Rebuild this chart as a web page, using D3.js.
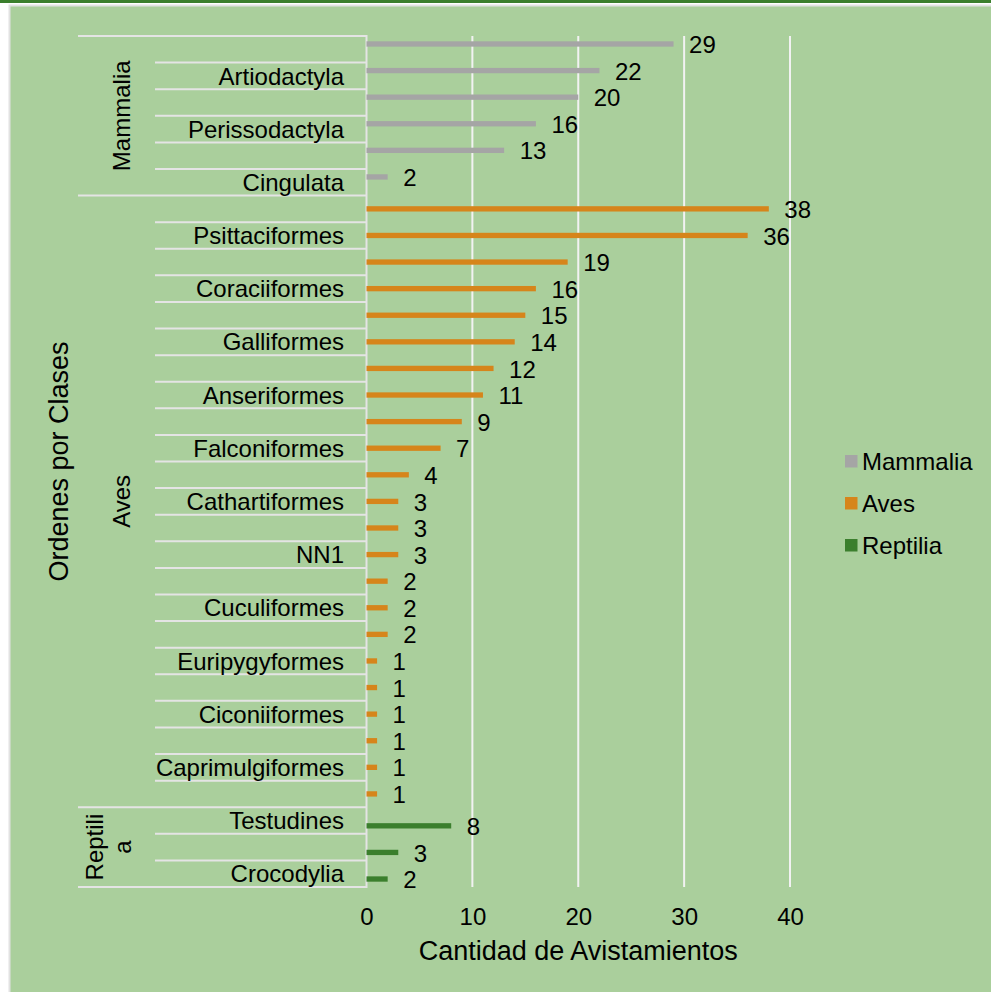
<!DOCTYPE html>
<html><head><meta charset="utf-8">
<script src="https://cdn.jsdelivr.net/npm/d3@7"></script>
<style>
html,body{margin:0;padding:0;background:#ffffff;}
text{font-family:"Liberation Sans",Arial,sans-serif;fill:#000;}
</style></head>
<body>
<svg id="chart" width="991" height="992"></svg>
<script>
// ---- data ----
const classes = ["Mammalia", "Aves", "Reptilia"];
const mammaliaOrders = ["Carnivora", "Artiodactyla", "Primates", "Perissodactyla", "Rodentia", "Cingulata"];
const mammaliaValues = [29, 22, 20, 16, 13, 2];
const avesOrders = ["Passeriformes", "Psittaciformes", "Pelecaniformes", "Coraciiformes", "Piciformes", "Galliformes",
  "Columbiformes", "Anseriformes", "Accipitriformes", "Falconiformes", "Charadriiformes", "Cathartiformes",
  "Strigiformes", "NN1", "Apodiformes", "Cuculiformes", "Gruiformes", "Euripygyformes", "Tinamiformes",
  "Ciconiiformes", "Suliformes", "Caprimulgiformes", "Trogoniformes"];
const avesValues = [38, 36, 19, 16, 15, 14, 12, 11, 9, 7, 4, 3, 3, 3, 2, 2, 2, 1, 1, 1, 1, 1, 1];
const reptiliaOrders = ["Testudines", "Squamata", "Crocodylia"];
const reptiliaValues = [8, 3, 2];
const xTicks = [0, 10, 20, 30, 40];
const colors = {Mammalia: "#a5a5a5", Aves: "#d6851b", Reptilia: "#3b7f2d"};
const xTitle = "Cantidad de Avistamientos";
const yTitle = "Ordenes por Clases";

// ---- build flat rows ----
const groups = [
  {cls: "Mammalia", orders: mammaliaOrders, values: mammaliaValues},
  {cls: "Aves", orders: avesOrders, values: avesValues},
  {cls: "Reptilia", orders: reptiliaOrders, values: reptiliaValues}
];
const rows = [];
groups.forEach(g => g.orders.forEach((o, i) => rows.push({cls: g.cls, order: o, value: g.values[i], key: g.cls + "|" + o})));
const N = rows.length;

const svg = d3.select("#chart");
// frame
svg.append("rect").attr("x", 0).attr("y", 0).attr("width", 991).attr("height", 992).attr("fill", "#ffffff");
svg.append("rect").attr("x", 0).attr("y", 0).attr("width", 991).attr("height", 3).attr("fill", "#3b7f2d");
svg.append("rect").attr("x", 9.5).attr("y", 5.5).attr("width", 990).attr("height", 990)
  .attr("fill", "#aacf9c").attr("stroke", "#e2e2e2").attr("stroke-width", 2);

const plot = {left: 366.5, right: 790, top: 36, bottom: 887};
const x = d3.scaleLinear().domain([0, 40]).range([plot.left, plot.right]);
const y = d3.scaleBand().domain(rows.map(r => r.key)).range([plot.top, plot.bottom]).paddingInner(0).paddingOuter(0);
const bw = y.bandwidth();
// clustered series slots within each category (as in a 3-series clustered bar chart)
const ySub = d3.scaleBand().domain(classes).range([0, bw]).paddingInner(0).paddingOuter(1);
const barH = ySub.bandwidth();

// grid lines
svg.append("g").selectAll("line").data(xTicks.filter(t => t > 0)).join("line")
  .attr("x1", d => x(d)).attr("x2", d => x(d)).attr("y1", plot.top).attr("y2", plot.bottom)
  .attr("stroke", "#f2f2f2").attr("stroke-width", 2);

// x axis tick labels
const xAxis = d3.axisBottom(x).tickValues(xTicks).tickSize(0).tickPadding(0);
const gx = svg.append("g").attr("transform", `translate(0,${plot.bottom})`).call(xAxis);
gx.select(".domain").remove();
gx.selectAll("text").attr("font-size", "24px").attr("font-family", "Liberation Sans, Arial, sans-serif")
  .attr("fill", "#000").attr("dy", null).attr("y", 37.5);

// category separators
const sepColor = "#e4e4e4";
const classStart = {};
let acc = 0;
groups.forEach(g => { classStart[g.cls] = acc; acc += g.orders.length; });
const boundaries = d3.range(N + 1);
const classBounds = new Set([0, ...groups.map(g => classStart[g.cls] + g.orders.length)]);
svg.append("g").selectAll("line").data(boundaries).join("line")
  .attr("x1", d => classBounds.has(d) ? 78 : 155).attr("x2", plot.left)
  .attr("y1", d => plot.top + d * bw).attr("y2", d => plot.top + d * bw)
  .attr("stroke", sepColor).attr("stroke-width", 2);
svg.append("line").attr("x1", plot.left).attr("x2", plot.left).attr("y1", plot.top - 1).attr("y2", plot.bottom + 1)
  .attr("stroke", sepColor).attr("stroke-width", 2);

// category labels (every other, as in the original)
svg.append("g").selectAll("text").data(rows.filter((r, i) => (N - 1 - i) % 2 === 0)).join("text")
  .attr("x", 344).attr("y", d => y(d.key) + bw / 2).attr("dy", "0.36em")
  .attr("text-anchor", "end").attr("font-size", "24px").text(d => d.order);

// class labels
const classLabel = svg.append("g");
groups.forEach(g => {
  const y0 = plot.top + classStart[g.cls] * bw, y1 = y0 + g.orders.length * bw, cy = (y0 + y1) / 2;
  if (g.cls === "Reptilia") {
    const t = classLabel.append("text").attr("transform", `translate(103,${cy}) rotate(-90)`)
      .attr("text-anchor", "middle").attr("font-size", "24px");
    t.append("tspan").attr("x", 0).attr("y", 0).text("Reptili");
    t.append("tspan").attr("x", 0).attr("y", 28).text("a");
  } else {
    classLabel.append("text").attr("transform", `translate(129.5,${cy}) rotate(-90)`)
      .attr("text-anchor", "middle").attr("font-size", "24px").text(g.cls);
  }
});

// bars
svg.append("g").selectAll("rect").data(rows).join("rect")
  .attr("x", x(0)).attr("y", d => y(d.key) + ySub(d.cls))
  .attr("width", d => x(d.value) - x(0)).attr("height", barH)
  .attr("fill", d => colors[d.cls]);

// data labels
svg.append("g").selectAll("text").data(rows).join("text")
  .attr("x", d => x(d.value) + 15.5).attr("y", d => y(d.key) + ySub(d.cls) + barH / 2 + 0.5).attr("dy", "0.36em")
  .attr("font-size", "24px").text(d => d.value);

// axis titles
svg.append("text").attr("x", (plot.left + plot.right) / 2).attr("y", 960)
  .attr("text-anchor", "middle").attr("font-size", "27px").text(xTitle);
svg.append("text").attr("transform", `translate(68,${(plot.top + plot.bottom) / 2}) rotate(-90)`)
  .attr("text-anchor", "middle").attr("font-size", "27px").text(yTitle);

// legend
const lg = svg.append("g");
classes.forEach((c, i) => {
  const cy = 461 + i * 42;
  lg.append("rect").attr("x", 845).attr("y", cy - 6).attr("width", 12.5).attr("height", 12.5).attr("fill", colors[c]);
  lg.append("text").attr("x", 862).attr("y", cy).attr("dy", "0.36em").attr("font-size", "24px").text(c);
});
</script>
</body></html>
